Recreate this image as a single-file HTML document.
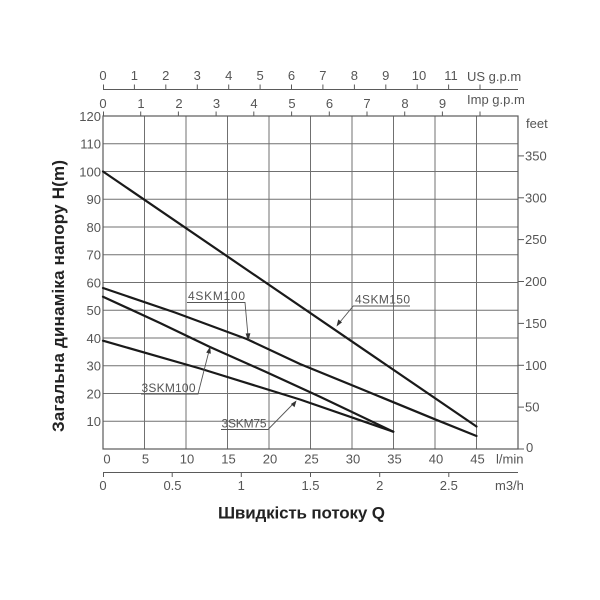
<!DOCTYPE html>
<html><head><meta charset="utf-8"><style>
html,body{margin:0;padding:0;background:#fff;width:600px;height:600px;overflow:hidden}
svg{display:block}
text{font-family:"Liberation Sans","DejaVu Sans",sans-serif}
.t{font-size:13px;fill:#555}
.c{font-size:12px;fill:#555}
</style></head><body>
<svg width="600" height="600" viewBox="0 0 600 600" xmlns="http://www.w3.org/2000/svg">
<rect width="600" height="600" fill="#fff"/>
<!-- grid -->
<g stroke="#707070" stroke-width="1" fill="none">
<line x1="103" y1="143.75" x2="518" y2="143.75"/>
<line x1="103" y1="171.5" x2="518" y2="171.5"/>
<line x1="103" y1="199.25" x2="518" y2="199.25"/>
<line x1="103" y1="227" x2="518" y2="227"/>
<line x1="103" y1="254.75" x2="518" y2="254.75"/>
<line x1="103" y1="282.5" x2="518" y2="282.5"/>
<line x1="103" y1="310.25" x2="518" y2="310.25"/>
<line x1="103" y1="338" x2="518" y2="338"/>
<line x1="103" y1="365.75" x2="518" y2="365.75"/>
<line x1="103" y1="393.5" x2="518" y2="393.5"/>
<line x1="103" y1="421.25" x2="518" y2="421.25"/>
<line x1="144.5" y1="116" x2="144.5" y2="449"/>
<line x1="186" y1="116" x2="186" y2="449"/>
<line x1="227.5" y1="116" x2="227.5" y2="449"/>
<line x1="269" y1="116" x2="269" y2="449"/>
<line x1="310.5" y1="116" x2="310.5" y2="449"/>
<line x1="352" y1="116" x2="352" y2="449"/>
<line x1="393.5" y1="116" x2="393.5" y2="449"/>
<line x1="435" y1="116" x2="435" y2="449"/>
<line x1="476.5" y1="116" x2="476.5" y2="449"/>
</g>
<rect x="103" y="116" width="415" height="333" fill="none" stroke="#5a5a5a" stroke-width="1.2"/>
<!-- right feet axis ticks -->
<g stroke="#5a5a5a" stroke-width="1">
<line x1="518" y1="449" x2="524" y2="449"/>
<line x1="518" y1="407.1" x2="524" y2="407.1"/>
<line x1="518" y1="365.3" x2="524" y2="365.3"/>
<line x1="518" y1="323.4" x2="524" y2="323.4"/>
<line x1="518" y1="281.5" x2="524" y2="281.5"/>
<line x1="518" y1="239.6" x2="524" y2="239.6"/>
<line x1="518" y1="197.8" x2="524" y2="197.8"/>
<line x1="518" y1="155.9" x2="524" y2="155.9"/>
</g>
<g class="t">
<text x="525" y="160.5">350</text>
<text x="525" y="202.3">300</text>
<text x="525" y="244.1">250</text>
<text x="525" y="286">200</text>
<text x="525" y="327.9">150</text>
<text x="525" y="369.8">100</text>
<text x="525" y="411.6">50</text>
<text x="526" y="452">0</text>
<text x="526" y="128">feet</text>
</g>
<!-- left labels -->
<g class="t" text-anchor="end">
<text x="101" y="121">120</text>
<text x="101" y="148.5">110</text>
<text x="101" y="176.3">100</text>
<text x="101" y="204">90</text>
<text x="101" y="231.8">80</text>
<text x="101" y="259.5">70</text>
<text x="101" y="287.3">60</text>
<text x="101" y="315">50</text>
<text x="101" y="342.8">40</text>
<text x="101" y="370.5">30</text>
<text x="101" y="398.3">20</text>
<text x="101" y="426">10</text>
</g>
<!-- bottom l/min labels -->
<g class="t" text-anchor="middle">
<text x="107" y="463.5">0</text>
<text x="145.5" y="463.5">5</text>
<text x="187" y="463.5">10</text>
<text x="228.5" y="463.5">15</text>
<text x="270" y="463.5">20</text>
<text x="311.5" y="463.5">25</text>
<text x="353" y="463.5">30</text>
<text x="394.5" y="463.5">35</text>
<text x="436" y="463.5">40</text>
<text x="477.5" y="463.5">45</text>
</g>
<text class="t" x="496" y="463.5">l/min</text>
<!-- m3/h axis -->
<g stroke="#5a5a5a" stroke-width="1">
<line x1="103" y1="472.5" x2="518" y2="472.5"/>
<line x1="103.5" y1="472.5" x2="103.5" y2="477"/>
<line x1="172.2" y1="472.5" x2="172.2" y2="477"/>
<line x1="241.3" y1="472.5" x2="241.3" y2="477"/>
<line x1="310.5" y1="472.5" x2="310.5" y2="477"/>
<line x1="379.7" y1="472.5" x2="379.7" y2="477"/>
<line x1="448.8" y1="472.5" x2="448.8" y2="477"/>
</g>
<g class="t" text-anchor="middle">
<text x="103" y="490">0</text>
<text x="172.5" y="490">0.5</text>
<text x="241.3" y="490">1</text>
<text x="310.5" y="490">1.5</text>
<text x="379.7" y="490">2</text>
<text x="448.8" y="490">2.5</text>
</g>
<text class="t" x="495" y="490">m3/h</text>
<!-- US gpm axis -->
<g stroke="#5a5a5a" stroke-width="1">
<line x1="103" y1="89.5" x2="518" y2="89.5"/>
<line x1="103.5" y1="84.5" x2="103.5" y2="89.5"/>
<line x1="134.4" y1="84.5" x2="134.4" y2="89.5"/>
<line x1="165.8" y1="84.5" x2="165.8" y2="89.5"/>
<line x1="197.3" y1="84.5" x2="197.3" y2="89.5"/>
<line x1="228.7" y1="84.5" x2="228.7" y2="89.5"/>
<line x1="260.1" y1="84.5" x2="260.1" y2="89.5"/>
<line x1="291.5" y1="84.5" x2="291.5" y2="89.5"/>
<line x1="322.9" y1="84.5" x2="322.9" y2="89.5"/>
<line x1="354.4" y1="84.5" x2="354.4" y2="89.5"/>
<line x1="385.8" y1="84.5" x2="385.8" y2="89.5"/>
<line x1="417.2" y1="84.5" x2="417.2" y2="89.5"/>
<line x1="448.6" y1="84.5" x2="448.6" y2="89.5"/>
<line x1="480" y1="84.5" x2="480" y2="89.5"/>
</g>
<g class="t" text-anchor="middle">
<text x="103" y="80">0</text>
<text x="134.4" y="80">1</text>
<text x="165.8" y="80">2</text>
<text x="197.3" y="80">3</text>
<text x="228.7" y="80">4</text>
<text x="260.1" y="80">5</text>
<text x="291.5" y="80">6</text>
<text x="322.9" y="80">7</text>
<text x="354.4" y="80">8</text>
<text x="385.8" y="80">9</text>
<text x="419" y="80">10</text>
<text x="451" y="80">11</text>
</g>
<text class="t" x="467" y="81">US g.p.m</text>
<!-- Imp gpm axis -->
<g stroke="#5a5a5a" stroke-width="1">
<line x1="103.5" y1="111.5" x2="103.5" y2="116"/>
<line x1="140.7" y1="111.5" x2="140.7" y2="116"/>
<line x1="178.4" y1="111.5" x2="178.4" y2="116"/>
<line x1="216.1" y1="111.5" x2="216.1" y2="116"/>
<line x1="253.8" y1="111.5" x2="253.8" y2="116"/>
<line x1="291.6" y1="111.5" x2="291.6" y2="116"/>
<line x1="329.3" y1="111.5" x2="329.3" y2="116"/>
<line x1="367" y1="111.5" x2="367" y2="116"/>
<line x1="404.7" y1="111.5" x2="404.7" y2="116"/>
<line x1="442.4" y1="111.5" x2="442.4" y2="116"/>
<line x1="480" y1="111.5" x2="480" y2="116"/>
</g>
<g class="t" text-anchor="middle">
<text x="103" y="108">0</text>
<text x="141" y="108">1</text>
<text x="179" y="108">2</text>
<text x="216.5" y="108">3</text>
<text x="254" y="108">4</text>
<text x="292" y="108">5</text>
<text x="329.5" y="108">6</text>
<text x="367" y="108">7</text>
<text x="405" y="108">8</text>
<text x="442.5" y="108">9</text>
</g>
<text class="t" x="467" y="104">Imp g.p.m</text>
<!-- curves -->
<g stroke="#1a1a1a" stroke-width="2.2" fill="none" stroke-linecap="round" stroke-linejoin="round">
<polyline points="103,171.5 476.5,426.5"/>
<polyline points="103,288 175,312.5 246.7,339 300,364 360,388.5 435,419.3 476.5,436"/>
<polyline points="103,296.7 160,323 210,347 265,371.5 320,396.7 393.3,431.7"/>
<polyline points="103,340.7 200,368.5 300,399.5 393.3,431.7"/>
</g>
<!-- curve labels with leaders -->
<g stroke="#555" stroke-width="0.9" fill="none">
<polyline points="187,302.5 245,302.5 248,336"/>
<polyline points="141,394 198,394 209,351"/>
<polyline points="221,429.5 268,429.5 293,404"/>
<polyline points="410,306 353.3,306 340,322"/>
</g>
<g fill="#333">
<polygon points="248.3,341 245.6,333.5 250.4,333.2"/>
<polygon points="210.2,346.5 210.8,353.8 206.2,352.6"/>
<polygon points="296.5,400.5 294.5,407.3 290.9,404"/>
<polygon points="336.5,326.5 338.3,319.4 342,322.4"/>
</g>
<g class="c">
<text x="188" y="300" textLength="57">4SKM100</text>
<text x="141.5" y="392" textLength="54">3SKM100</text>
<text x="221.5" y="427.5" textLength="45">3SKM75</text>
<text x="355" y="303.5" textLength="55">4SKM150</text>
</g>
<!-- titles -->
<text x="301.5" y="518.5" text-anchor="middle" font-size="17" font-weight="bold" fill="#222" textLength="167">Швидкість потоку Q</text>
<text transform="translate(64,296) rotate(-90)" text-anchor="middle" font-size="17" font-weight="bold" fill="#222" textLength="272">Загальна динаміка напору H(m)</text>
</svg>
</body></html>
